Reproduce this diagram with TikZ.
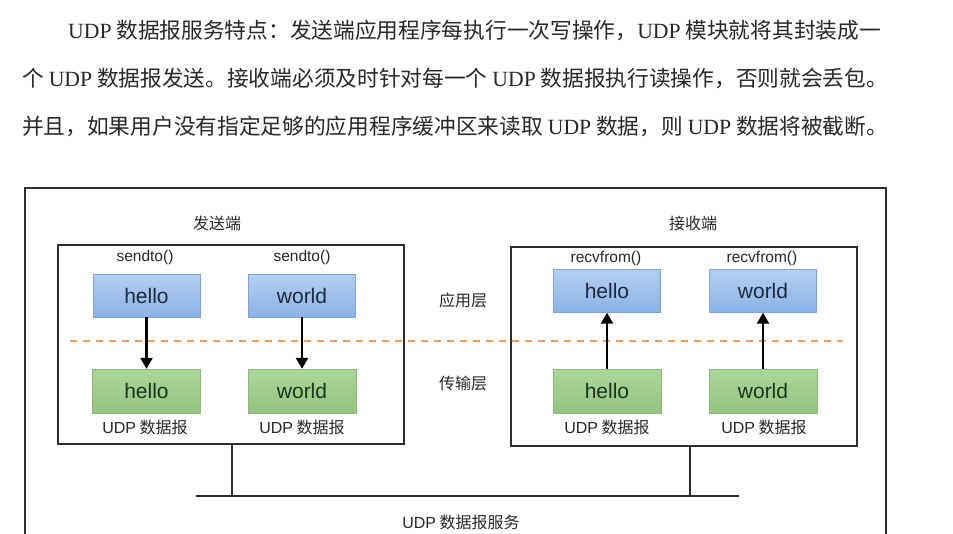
\documentclass[tikz,border=0pt]{standalone}
\usepackage{fontspec}
\newfontfamily\cjk{Noto Sans CJK SC}
\newfontfamily\latsans{Liberation Sans}
\newfontfamily\latserif{Liberation Serif}
\usetikzlibrary{arrows.meta,positioning}
\definecolor{appblue}{RGB}{178,207,241}
\definecolor{appbluedark}{RGB}{140,178,229}
\definecolor{appborder}{RGB}{124,164,218}
\definecolor{apptext}{RGB}{28,42,60}
\definecolor{udpgreen}{RGB}{172,214,155}
\definecolor{udpgreendark}{RGB}{147,195,128}
\definecolor{udpborder}{RGB}{138,188,120}
\definecolor{udptext}{RGB}{28,52,26}
\definecolor{cutorange}{RGB}{240,158,96}
\definecolor{framegray}{RGB}{45,45,45}
\definecolor{inkgray}{RGB}{40,40,40}
\newcommand{\udpsans}{{\latsans UDP}}
\newcommand{\udpserif}{{\latserif UDP}}

\tikzset{
  para/.style={anchor=west,inner sep=0pt,text=inkgray,font=\cjk\fontsize{21.7}{24}\selectfont},
  appbox/.style={draw=appborder,top color=appblue,bottom color=appbluedark,minimum width=107pt,minimum height=43pt,inner sep=0pt,text=apptext,font=\latsans\fontsize{21}{24}\selectfont},
  pktbox/.style={draw=udpborder,top color=udpgreen,bottom color=udpgreendark,minimum width=108pt,minimum height=44pt,inner sep=0pt,text=udptext,font=\latsans\fontsize{21}{24}\selectfont},
  hostbox/.style={draw=framegray,line width=2.4pt,minimum width=346pt,minimum height=199pt,inner sep=0pt},
  calllabel/.style={inner sep=0pt,text=inkgray,font=\latsans\fontsize{15.5}{18}\selectfont},
  cnlabel/.style={inner sep=0pt,text=inkgray,font=\cjk\fontsize{16}{19}\selectfont},
  flow/.style={-{Triangle[width=12pt,length=11pt]},line width=2.4pt,black},
  wire/.style={line width=2.4pt,framegray},
}

\begin{document}
\begin{tikzpicture}[x=1pt,y=-1pt]
\useasboundingbox (0,0) rectangle (953,533);
\fill[white] (0,0) rectangle (953,533);
\clip (0,0) rectangle (953,533);

% text above the figure
\node[para] (line1) at (68,30) {\udpserif{} 数据报服务特点：发送端应用程序每执行一次写操作，\udpserif{} 模块就将其封装成一};
\node[para] (line2) at (22,78) {个 \udpserif{} 数据报发送。接收端必须及时针对每一个 \udpserif{} 数据报执行读操作，否则就会丢包。};
\node[para] (line3) at (22,126) {并且，如果用户没有指定足够的应用程序缓冲区来读取 \udpserif{} 数据，则 \udpserif{} 数据将被截断。};

% outer frame
\draw[line width=1.8pt,framegray] (25,188) rectangle (886,560);

% host boxes
\node[hostbox] (sendbox) at (231,344.5) {};
\node[hostbox] (recvbox) at (684,346.5) {};
\node[cnlabel] (sendtitle) at (217,223) {发送端};
\node[cnlabel] (recvtitle) at (693,223) {接收端};

% layer boundary
\coordinate (cutL) at (70,341);
\coordinate (cutR) at (843,341);
\draw[cutorange,line width=1.6pt,dash pattern=on 7pt off 6pt] (cutL) -- (cutR);
\node[cnlabel] (applayer) at (463,300) {应用层};
\node[cnlabel] (translayer) at (463,383) {传输层};

% sender
\node[appbox] (sendhello) at (146.5,295.5) {hello};
\node[appbox] (sendworld) at (302,295.5) {world};
\node[calllabel] at (145,257) {sendto()};
\node[calllabel] at (302,257) {sendto()};
\node[pktbox] (sendpkt1) at (146.5,391) {hello};
\node[pktbox] (sendpkt2) at (302,391) {world};
\node[cnlabel] at (145,427) {\udpsans{} 数据报};
\node[cnlabel] at (302,427) {\udpsans{} 数据报};
\draw[flow] (sendhello) -- (sendpkt1);
\draw[flow] (sendworld) -- (sendpkt2);

% receiver
\node[appbox] (recvhello) at (607,291) {hello};
\node[appbox] (recvworld) at (763,291) {world};
\node[calllabel] at (606,258) {recvfrom()};
\node[calllabel] at (762,258) {recvfrom()};
\node[pktbox] (recvpkt1) at (607,391) {hello};
\node[pktbox] (recvpkt2) at (763,391) {world};
\node[cnlabel] at (607,427) {\udpsans{} 数据报};
\node[cnlabel] at (764,427) {\udpsans{} 数据报};
\draw[flow] (recvpkt1) -- (recvhello);
\draw[flow] (recvpkt2) -- (recvworld);

% UDP service bus
\coordinate (busL) at (196,496);
\coordinate (busR) at (739,496);
\coordinate (sendtap) at (232,496);
\coordinate (recvtap) at (690,496);
\draw[wire] (busL) -- (busR);
\draw[wire] (sendtap |- sendbox.south) -- (sendtap);
\draw[wire] (recvtap |- recvbox.south) -- (recvtap);
\node[cnlabel] (service) at (461,522) {\udpsans{} 数据报服务};
\end{tikzpicture}
\end{document}
